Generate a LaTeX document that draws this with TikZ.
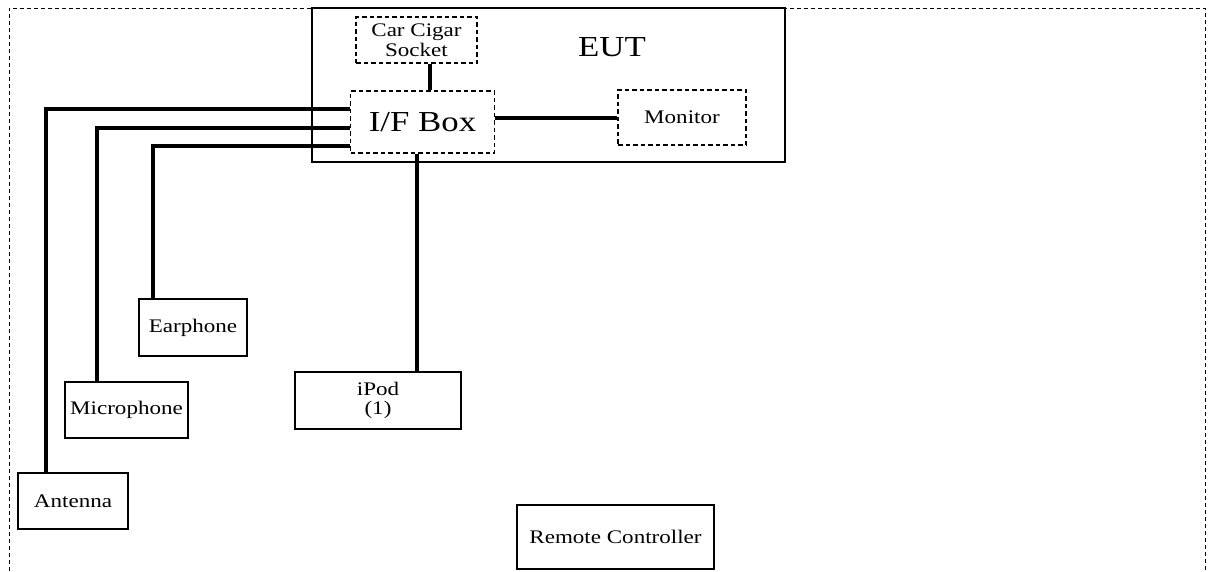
\documentclass[tikz,border=0pt]{standalone}
\usepackage{fontspec}
\setmainfont{Liberation Serif}[FakeStretch=1.2]
\newcommand\lblsize{\fontsize{19.2}{19}\selectfont}
\newcommand\bigsize{\fontsize{29}{32}\selectfont}
\tikzset{
  frame/.style={draw=black,line width=1pt,dash pattern=on 4pt off 3pt},
  solidbox/.style={draw=black,line width=1.6pt,inner sep=0pt,align=center,font=\lblsize},
  dashbox/.style={draw=black,line width=1.6pt,dash pattern=on 4.5pt off 3pt,inner sep=0pt,align=center,font=\lblsize},
  wire/.style={draw=black,line width=3.4pt},
  bigtext/.style={inner sep=0pt,font=\bigsize}
}
\begin{document}
\begin{tikzpicture}[x=1pt,y=-1pt]
\path[use as bounding box] (0,0) rectangle (1208,571);

% outer test area
\draw[frame] (9,571) -- (9,8) -- (1205,8) -- (1205,571);

% equipment under test
\node[solidbox,minimum width=473pt,minimum height=154pt] (eut) at (548.5,85) {};
\node[bigtext] (eutlabel) at (612,47) {EUT};

\node[dashbox,minimum width=121pt,minimum height=46pt,font=\fontsize{19.2}{19.5}\selectfont] (cigar) at (416.5,40) {Car Cigar\\Socket};
\node[dashbox,minimum width=144pt,minimum height=62pt,font=\bigsize] (ifbox) at (422.5,122) {I/F Box};
\node[dashbox,minimum width=128pt,minimum height=55pt] (monitor) at (682,117.5) {Monitor};

% peripherals
\node[solidbox,minimum width=108pt,minimum height=57pt] (earphone) at (193,327.5) {Earphone};
\node[solidbox,minimum width=123pt,minimum height=56pt] (microphone) at (126.5,410) {Microphone};
\node[solidbox,minimum width=110pt,minimum height=56pt] (antenna) at (73,501) {Antenna};
\node[solidbox,minimum width=166pt,minimum height=57pt,font=\fontsize{19.2}{19.5}\selectfont] (ipod) at (378,400.5) {iPod\\(1)};
\node[solidbox,minimum width=197pt,minimum height=64pt] (remote) at (615.5,537) {Remote Controller};

% routing points of the cables
\coordinate (cigarx) at (430,0);
\coordinate (monitory) at (0,118);
\coordinate (ipodx) at (417,0);
\coordinate (antbend) at (46,109);
\coordinate (micbend) at (97,128);
\coordinate (earbend) at (153,146);

% cables
\draw[wire] (cigar.south -| cigarx) -- (ifbox.north -| cigarx);
\draw[wire] (ifbox.east |- monitory) -- (monitor.west |- monitory);
\draw[wire] (ifbox.south -| ipodx) -- (ipod.north -| ipodx);
\draw[wire] (ifbox.west |- antbend) -| (antenna.north -| antbend);
\draw[wire] (ifbox.west |- micbend) -| (microphone.north -| micbend);
\draw[wire] (ifbox.west |- earbend) -| (earphone.north -| earbend);
\end{tikzpicture}
\end{document}
